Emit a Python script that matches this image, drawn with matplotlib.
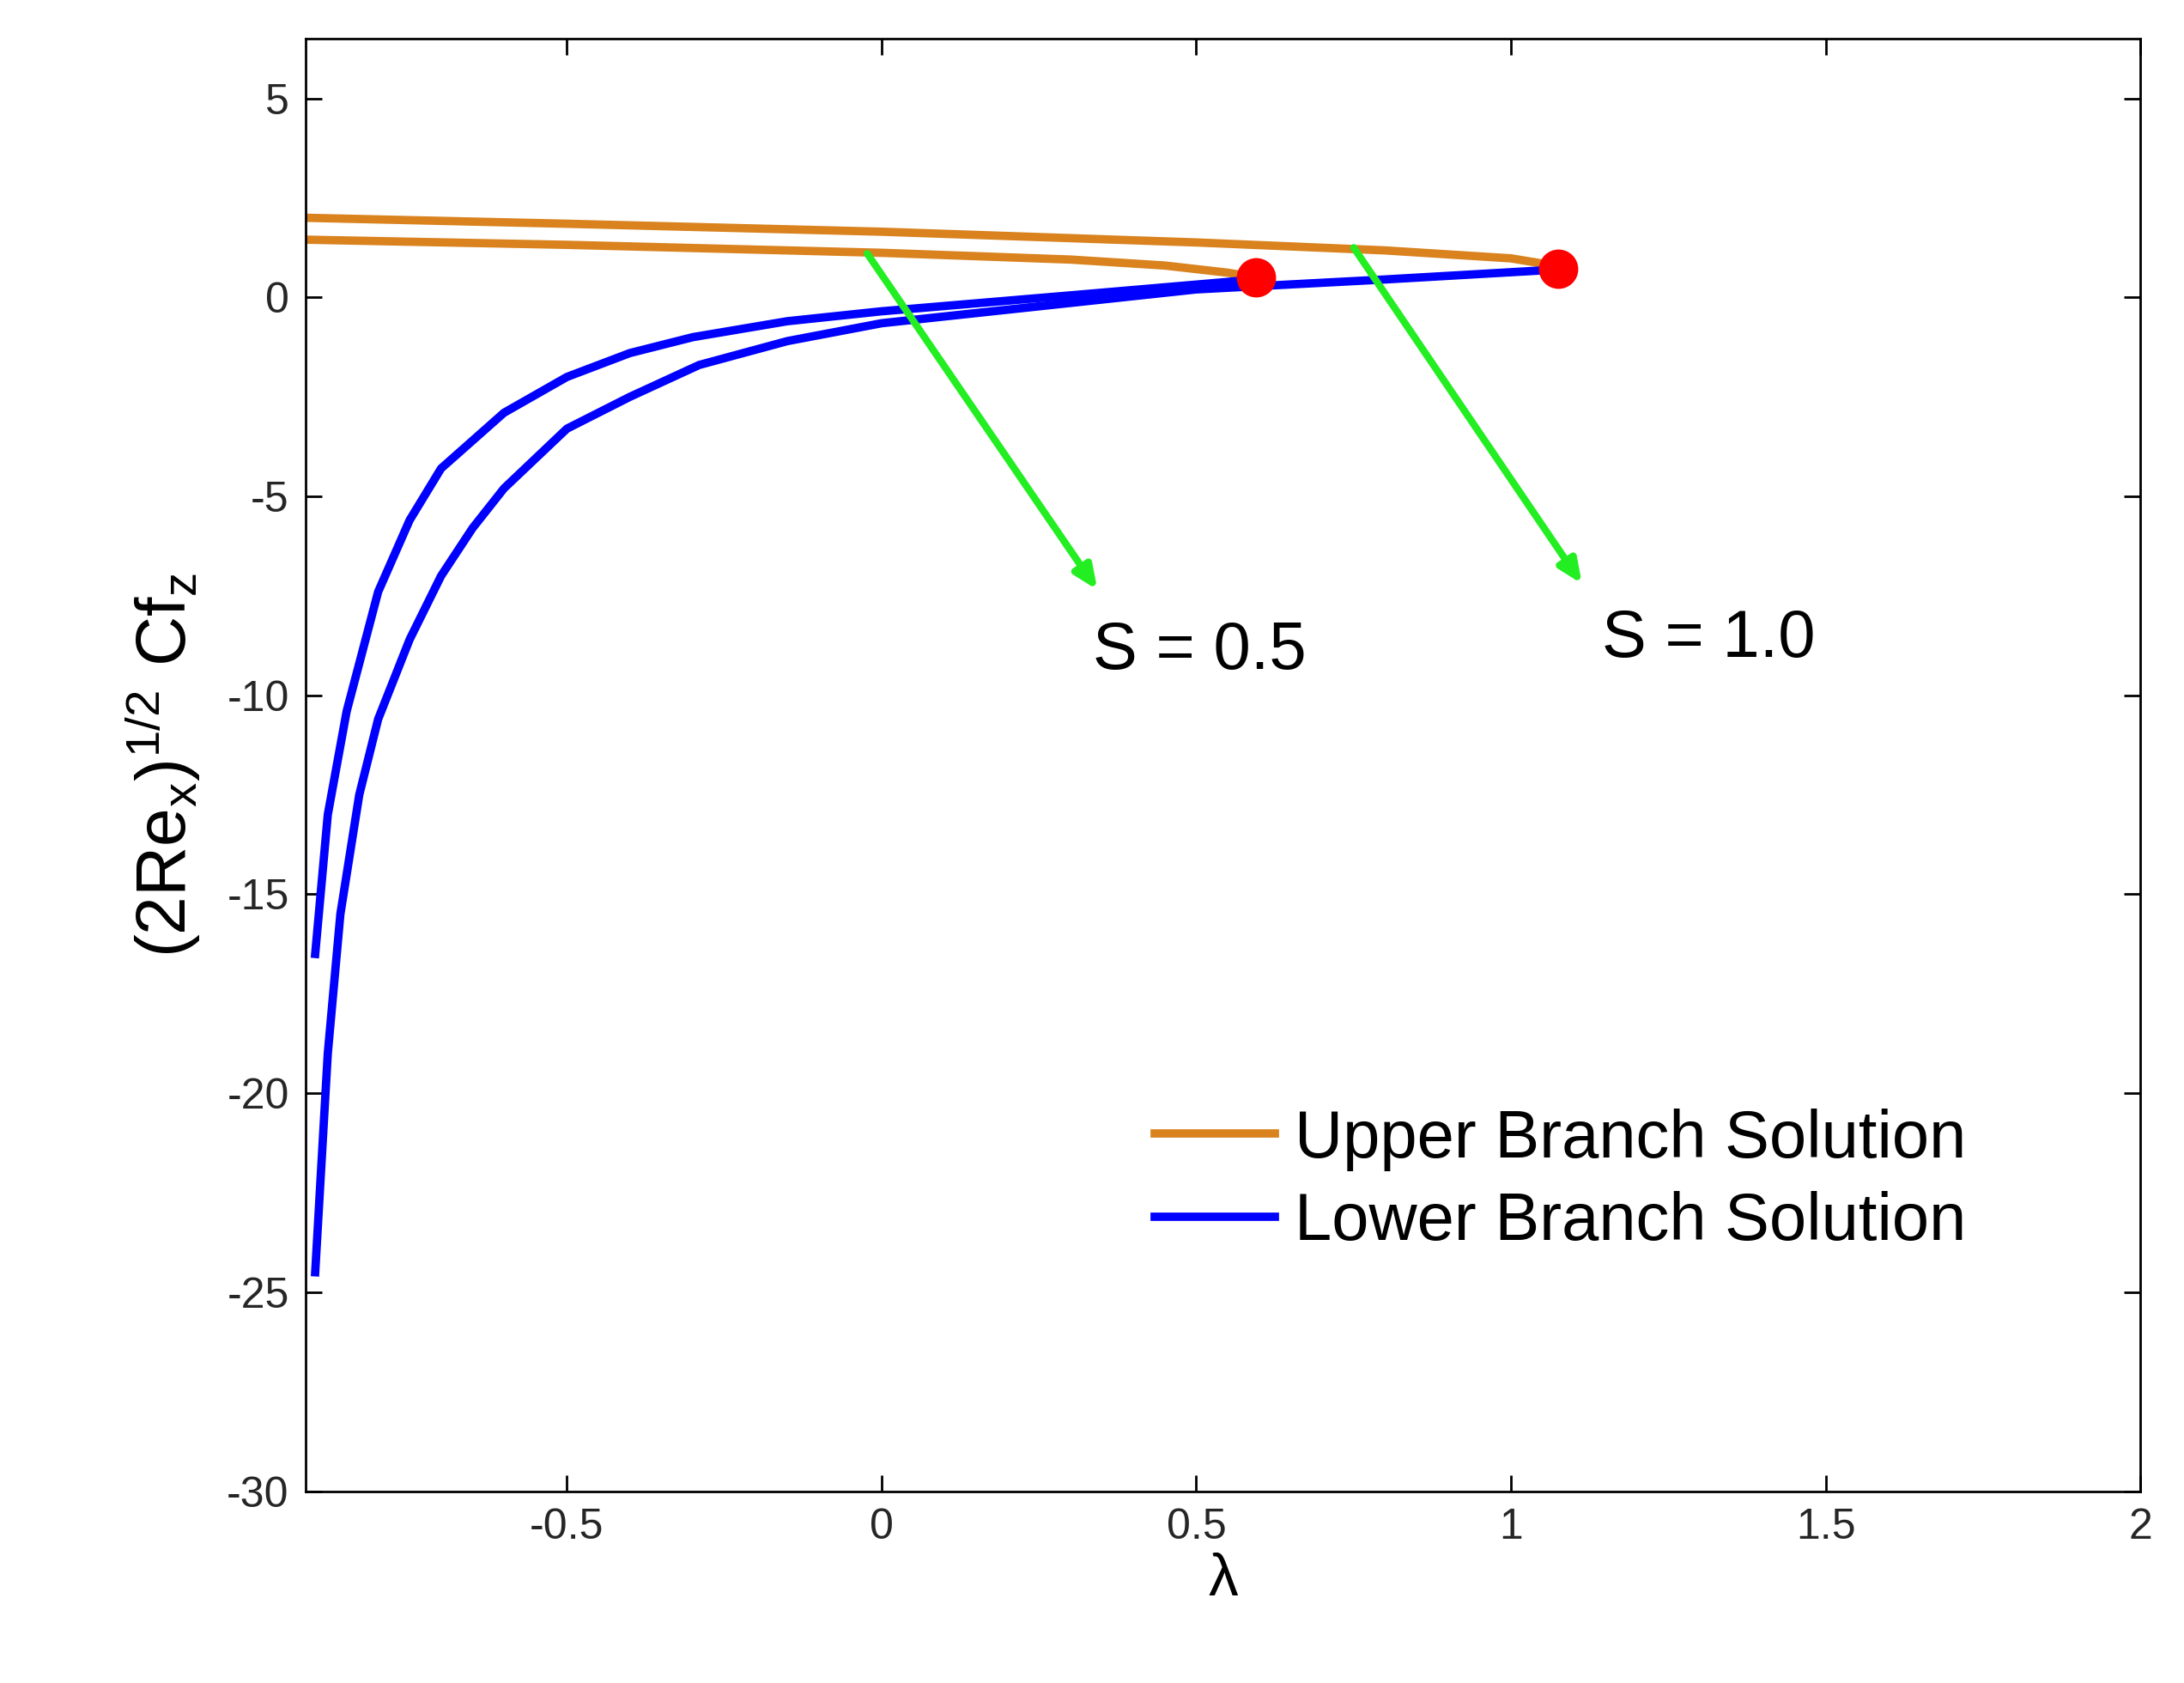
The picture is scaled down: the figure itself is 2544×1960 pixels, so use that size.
import matplotlib
matplotlib.use("Agg")
import matplotlib.pyplot as plt

up10_x = [-0.915, -0.5, 0.0, 0.5, 0.8, 1.0, 1.05, 1.075]
up10_y = [2.0, 1.85, 1.65, 1.38, 1.18, 0.98, 0.85, 0.72]
up05_x = [-0.915, -0.5, 0.0, 0.3, 0.45, 0.55, 0.595]
up05_y = [1.45, 1.32, 1.12, 0.95, 0.8, 0.62, 0.5]
lo05_x = [0.595, 0.3, 0.0, -0.15, -0.3, -0.4, -0.5, -0.6, -0.7, -0.75, -0.8, -0.85, -0.88, -0.9]
lo05_y = [0.45, 0.05, -0.35, -0.6, -1.0, -1.4, -2.0, -2.9, -4.3, -5.6, -7.4, -10.4, -13.0, -16.5]
lo10_x = [1.075, 0.8, 0.5, 0.0, -0.15, -0.29, -0.4, -0.5, -0.6, -0.65, -0.7, -0.75, -0.8, -0.83, -0.86, -0.88, -0.9]
lo10_y = [0.7, 0.45, 0.2, -0.65, -1.1, -1.7, -2.5, -3.3, -4.8, -5.8, -7.0, -8.6, -10.6, -12.5, -15.5, -19.0, -24.5]
turn_x = [0.595, 1.075]
turn_y = [0.5, 0.72]

plt.rcParams['font.family'] = ['Liberation Sans', 'DejaVu Sans']
fig = plt.figure(figsize=(25.44, 19.6), dpi=100)
ax = fig.add_axes([0.140, 0.114, 0.840, 0.863])
orange = '#D9821E'
blue = '#0000FF'
lw = 7
ax.plot(up10_x, up10_y, color=orange, lw=lw, label='Upper Branch Solution', solid_joinstyle='round')
ax.plot(up05_x, up05_y, color=orange, lw=lw, solid_joinstyle='round')
ax.plot(lo10_x, lo10_y, color=blue, lw=lw, label='Lower Branch Solution', solid_joinstyle='round')
ax.plot(lo05_x, lo05_y, color=blue, lw=lw, solid_joinstyle='round')
ax.plot(turn_x, turn_y, 'o', color='red', ms=32, zorder=5)

for (x0, y0, x1, y1) in [(-0.025, 1.15, 0.345, -7.4), (0.748, 1.3, 1.115, -7.25)]:
    ax.annotate('', xy=(x1, y1), xytext=(x0, y0),
                arrowprops=dict(arrowstyle='-|>,head_length=1.6,head_width=0.7', color='#22EE22', lw=6))
ax.text(0.335, -8.9, 'S = 0.5', fontsize=56, ha='left', va='center')
ax.text(1.145, -8.6, 'S = 1.0', fontsize=56, ha='left', va='center')

ax.set_xlim(-0.915, 2)
ax.set_ylim(-30, 6.5)
ax.set_xticks([-0.5, 0, 0.5, 1, 1.5, 2])
ax.set_xticklabels(['-0.5', '0', '0.5', '1', '1.5', '2'])
ax.set_yticks([-30, -25, -20, -15, -10, -5, 0, 5])
ax.set_yticklabels(['-30', '-25', '-20', '-15', '-10', '-5', '0', '5'])
ax.tick_params(direction='in', top=True, right=True, length=14, width=2,
               labelsize=36, labelcolor='#262626', pad=14)
for s in ax.spines.values():
    s.set_linewidth(2)
ax.set_xlabel('λ', fontsize=50, labelpad=4)
ax.set_ylabel(r'$\mathregular{(2Re_x)^{1/2}\ Cf_z}$', fontsize=58, labelpad=20)
ax.legend(loc='upper left', bbox_to_anchor=(0.43, 0.305), frameon=False,
          fontsize=56, handlelength=1.8, handletextpad=0.3, labelspacing=0.3)
fig.savefig('out.png', dpi=100)
